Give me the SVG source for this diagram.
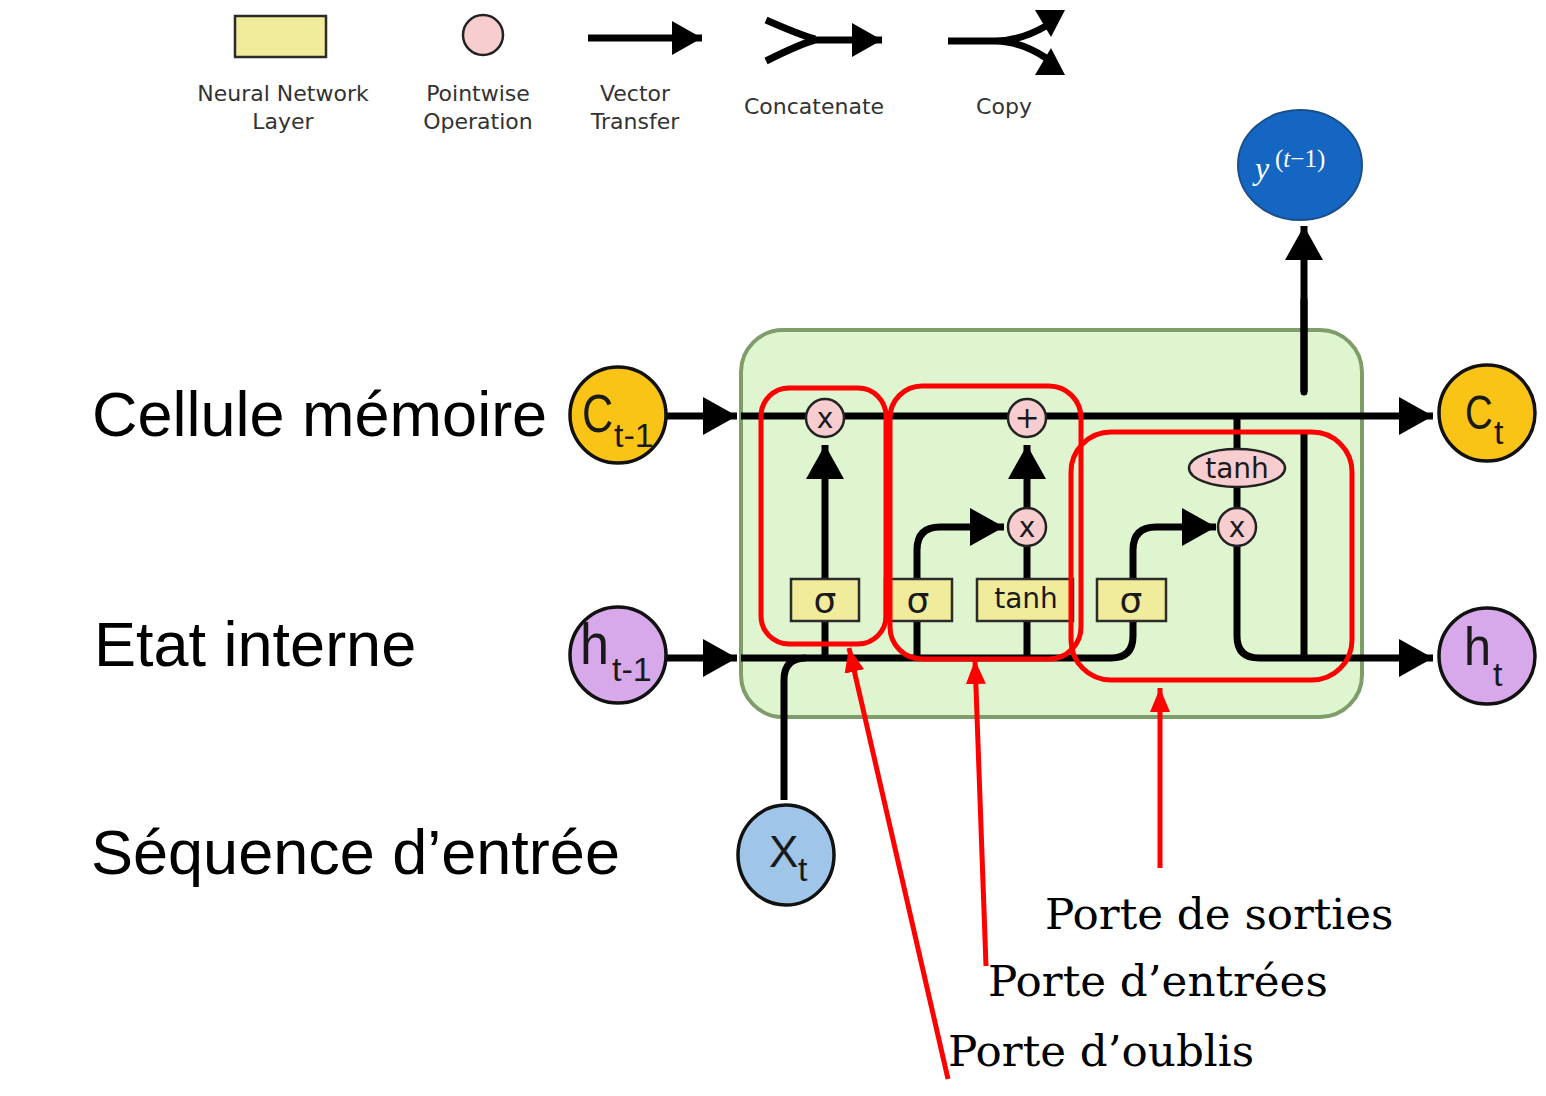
<svg xmlns="http://www.w3.org/2000/svg" width="1546" height="1096" viewBox="0 0 1546 1096">
<defs>
<style>
.ln{fill:none;stroke:#000;stroke-width:7;stroke-linecap:butt}
.lnr{fill:none;stroke:#000;stroke-width:7;stroke-linecap:round}
.red{fill:none;stroke:#ff0000;stroke-width:5}
.box{fill:#f1ec9c;stroke:#2b2b2b;stroke-width:2.5}
.op{fill:#f7cdd0;stroke:#222;stroke-width:2.5}
.leg{font-family:"DejaVu Sans",sans-serif;font-size:22px;fill:#333;text-anchor:middle}
.sym{font-family:"DejaVu Sans",sans-serif;fill:#1a1a1a;text-anchor:middle}
.big{font-family:"Liberation Sans",Arial,sans-serif;font-size:63px;fill:#000}
.node{font-family:"Liberation Sans",Arial,sans-serif;fill:#1a1a1a}
.gate{font-family:"DejaVu Serif",serif;font-size:43.6px;fill:#000}
</style>
<marker id="ah" markerUnits="userSpaceOnUse" markerWidth="40" markerHeight="40" refX="34" refY="19" orient="auto"><path d="M0,0 L34,19 L0,38 z" fill="#000"/></marker>
<marker id="ahs" markerUnits="userSpaceOnUse" markerWidth="40" markerHeight="40" refX="30" refY="17" orient="auto"><path d="M0,0 L30,17 L0,34 z" fill="#000"/></marker>
<marker id="rh" markerUnits="userSpaceOnUse" markerWidth="30" markerHeight="30" refX="24" refY="10" orient="auto"><path d="M0,0 L24,10 L0,20 z" fill="#ff0000"/></marker>
</defs>
<rect width="1546" height="1096" fill="#fff"/>

<g id="legend">
<rect x="235" y="16" width="91" height="41" class="box" stroke-width="3"/>
<ellipse cx="483" cy="35" rx="20" ry="20" class="op" stroke-width="2"/>
<line x1="588" y1="38" x2="702" y2="38" class="ln" stroke-width="6" marker-end="url(#ahs)"/>
<path d="M766,20 Q800,35 815,39 M766,61 Q800,44 815,40 M812,40 H882" class="ln" stroke-width="6" marker-end="url(#ahs)"/>
<path d="M948,41 H995 Q1020,41 1046,26 M995,41 Q1020,41 1046,58" class="ln" stroke-width="6"/>
<polygon points="1035,10 1065,10 1051,37" fill="#000"/>
<polygon points="1051,48 1065,75 1035,75" fill="#000"/>
<text class="leg" x="283" y="101">Neural Network</text>
<text class="leg" x="283" y="129">Layer</text>
<text class="leg" x="478" y="101">Pointwise</text>
<text class="leg" x="478" y="129">Operation</text>
<text class="leg" x="635" y="101">Vector</text>
<text class="leg" x="635" y="129">Transfer</text>
<text class="leg" x="814" y="114">Concatenate</text>
<text class="leg" x="1004" y="114">Copy</text>
</g>

<g id="labels">
<text class="big" x="92" y="436">Cellule mémoire</text>
<text class="big" x="94" y="666">Etat interne</text>
<text class="big" x="91" y="874">Séquence d’entrée</text>
</g>

<g id="cell">
<rect x="741" y="330" width="621" height="387" rx="42" fill="#dff5cf" stroke="#7f9d6b" stroke-width="4"/>
</g>

<g id="connectors">
<line x1="666" y1="416" x2="737" y2="416" class="ln" marker-end="url(#ah)"/>
<line x1="741" y1="416" x2="1433" y2="416" class="ln" marker-end="url(#ah)"/>
<line x1="666" y1="658" x2="737" y2="658" class="ln" marker-end="url(#ah)"/>
<path d="M741,658 H1111 Q1133,658 1133,636 V620" class="ln"/>
<path d="M784,800 V680 Q784,658 806,658" class="ln"/>
<line x1="825" y1="658" x2="825" y2="620" class="ln"/>
<line x1="825" y1="580" x2="825" y2="445" class="ln" marker-end="url(#ah)"/>
<line x1="917" y1="658" x2="917" y2="620" class="ln"/>
<path d="M917,580 V550 Q917,527 940,527 H1004" class="ln" marker-end="url(#ah)"/>
<line x1="1027" y1="658" x2="1027" y2="620" class="ln"/>
<line x1="1027" y1="580" x2="1027" y2="546" class="ln"/>
<line x1="1027" y1="508" x2="1027" y2="445" class="ln" marker-end="url(#ah)"/>
<path d="M1133,580 V550 Q1133,527 1156,527 H1216" class="ln" marker-end="url(#ah)"/>
<line x1="1237" y1="416" x2="1237" y2="450" class="ln"/>
<line x1="1237" y1="486" x2="1237" y2="508" class="ln"/>
<path d="M1237,546 V636 Q1237,658 1259,658 H1433" class="ln" marker-end="url(#ah)"/>
<line x1="1304" y1="658" x2="1304" y2="433" class="ln"/>
<path d="M1304,392 V226" class="ln" marker-end="url(#ah)"/>
<line x1="1304" y1="392" x2="1304" y2="300" class="lnr"/>
</g>

<g id="forget_sigma"><rect x="791" y="579" width="68" height="42" class="box"/><text class="sym" x="825" y="613" font-size="36">σ</text></g>
<g id="input_sigma"><rect x="885" y="579" width="67" height="42" class="box"/><text class="sym" x="918" y="613" font-size="36">σ</text></g>
<g id="input_tanh"><rect x="977" y="579" width="96" height="42" class="box"/><text class="sym" x="1026" y="608" font-size="28">tanh</text></g>
<g id="output_sigma"><rect x="1097" y="579" width="69" height="42" class="box"/><text class="sym" x="1131" y="613" font-size="36">σ</text></g>
<g id="mult_forget"><circle cx="825" cy="418" r="19" class="op"/><text class="sym" x="825" y="428" font-size="28">x</text></g>
<g id="add"><circle cx="1027" cy="418" r="19" class="op"/><text class="sym" x="1027" y="428" font-size="30">+</text></g>
<g id="mult_input"><circle cx="1027" cy="527" r="19" class="op"/><text class="sym" x="1027" y="537" font-size="28">x</text></g>
<g id="mult_output"><circle cx="1237" cy="527" r="19" class="op"/><text class="sym" x="1237" y="537" font-size="28">x</text></g>
<g id="tanh_out"><ellipse cx="1237" cy="468" rx="48" ry="19" class="op"/><text class="sym" x="1237" y="478" font-size="28">tanh</text></g>

<g id="c_prev"><circle cx="618" cy="415" r="48" fill="#fac416" stroke="#111" stroke-width="3.5"/><text class="node" transform="translate(582,432) scale(0.8,1)" font-size="54">C</text><text class="node" x="614" y="447" font-size="34">t-1</text></g>
<g id="h_prev"><circle cx="618" cy="655" r="48" fill="#d7a8ea" stroke="#111" stroke-width="3.5"/><text class="node" transform="translate(580,664) scale(0.9,1)" font-size="58">h</text><text class="node" x="612" y="681" font-size="34">t-1</text></g>
<g id="c_t"><circle cx="1487" cy="413" r="48" fill="#fac416" stroke="#111" stroke-width="3.5"/><text class="node" transform="translate(1465,429) scale(0.8,1)" font-size="48">C</text><text class="node" x="1494" y="444" font-size="34">t</text></g>
<g id="h_t"><circle cx="1487" cy="656" r="48" fill="#d7a8ea" stroke="#111" stroke-width="3.5"/><text class="node" transform="translate(1464,665) scale(0.9,1)" font-size="54">h</text><text class="node" x="1493" y="686" font-size="34">t</text></g>
<g id="x_t"><ellipse cx="786" cy="855" rx="48" ry="50" fill="#9fc5e8" stroke="#111" stroke-width="3.5"/><text class="node" x="769" y="867" font-size="44">X</text><text class="node" x="798" y="881" font-size="34">t</text></g>
<g id="y_out"><ellipse cx="1300" cy="165" rx="62" ry="55" fill="#1466c2" stroke="#1b4f8c" stroke-width="2"/><text x="1255" y="179" font-family="Liberation Serif,serif" font-style="italic" font-size="32" fill="#fff">y</text><text x="1275" y="167" font-family="Liberation Serif,serif" font-size="25" fill="#fff">(<tspan font-style="italic">t</tspan>−1)</text></g>

<g id="gates">
<rect x="761" y="388" width="125" height="256" rx="28" class="red"/>
<rect x="890" y="386" width="191" height="273" rx="32" class="red"/>
<rect x="1071" y="432" width="281" height="248" rx="40" class="red"/>
</g>

<g id="annotations">
<line x1="948" y1="1079" x2="849" y2="648" class="red" marker-end="url(#rh)"/>
<line x1="986" y1="966" x2="975" y2="660" class="red" marker-end="url(#rh)"/>
<line x1="1160" y1="868" x2="1160" y2="688" class="red" marker-end="url(#rh)"/>
<text class="gate" x="1045" y="929">Porte de sorties</text>
<text class="gate" x="988" y="996">Porte d’entrées</text>
<text class="gate" x="948" y="1066">Porte d’oublis</text>
</g>
</svg>
